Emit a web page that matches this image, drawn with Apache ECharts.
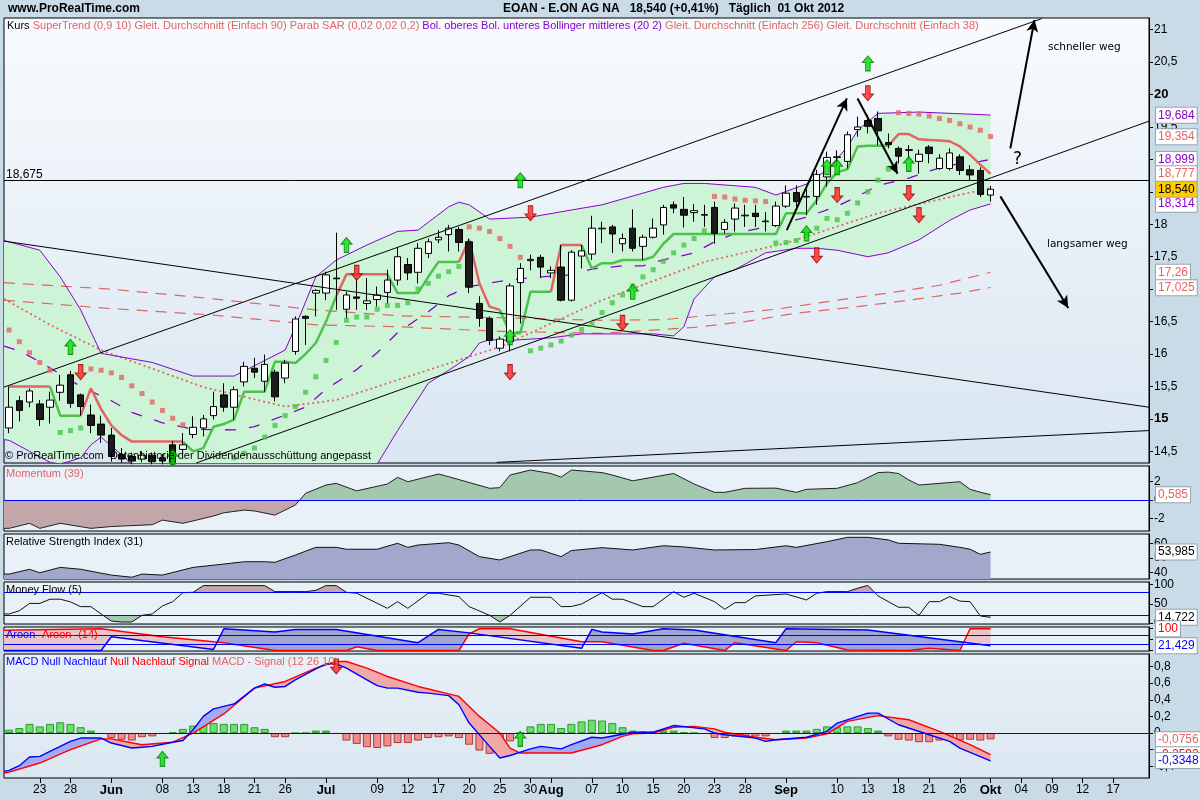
<!DOCTYPE html>
<html><head><meta charset="utf-8">
<script src="https://cdn.jsdelivr.net/npm/echarts@6/dist/echarts.min.js"></script>
<style>html,body{margin:0;padding:0;background:#c8dbe6}#c{width:1200px;height:800px}</style>
</head><body><div id="c"></div><script>
// ---------------- DATA ----------------
const dates = ['2012-05-18','2012-05-21','2012-05-22','2012-05-23','2012-05-24','2012-05-25','2012-05-28','2012-05-29','2012-05-30','2012-05-31',
'2012-06-01','2012-06-04','2012-06-05','2012-06-06','2012-06-07','2012-06-08','2012-06-11','2012-06-12','2012-06-13','2012-06-14','2012-06-15','2012-06-18','2012-06-19','2012-06-20','2012-06-21','2012-06-22','2012-06-25','2012-06-26','2012-06-27','2012-06-28','2012-06-29',
'2012-07-02','2012-07-03','2012-07-04','2012-07-05','2012-07-06','2012-07-09','2012-07-10','2012-07-11','2012-07-12','2012-07-13','2012-07-16','2012-07-17','2012-07-18','2012-07-19','2012-07-20','2012-07-23','2012-07-24','2012-07-25','2012-07-26','2012-07-27','2012-07-30','2012-07-31',
'2012-08-01','2012-08-02','2012-08-03','2012-08-06','2012-08-07','2012-08-08','2012-08-09','2012-08-10','2012-08-13','2012-08-14','2012-08-15','2012-08-16','2012-08-17','2012-08-20','2012-08-21','2012-08-22','2012-08-23','2012-08-24','2012-08-27','2012-08-28','2012-08-29','2012-08-30','2012-08-31',
'2012-09-03','2012-09-04','2012-09-05','2012-09-06','2012-09-07','2012-09-10','2012-09-11','2012-09-12','2012-09-13','2012-09-14','2012-09-17','2012-09-18','2012-09-19','2012-09-20','2012-09-21','2012-09-24','2012-09-25','2012-09-26','2012-09-27','2012-09-28',
'2012-10-01','2012-10-02','2012-10-03','2012-10-04','2012-10-05','2012-10-08','2012-10-09','2012-10-10','2012-10-11','2012-10-12','2012-10-15','2012-10-16','2012-10-17','2012-10-18','2012-10-19','2012-10-22'];
const labelDates = ['2012-05-23','2012-05-28','2012-06-01','2012-06-08','2012-06-13','2012-06-18','2012-06-21','2012-06-26','2012-07-02','2012-07-09','2012-07-12','2012-07-17','2012-07-20','2012-07-25','2012-07-30','2012-08-01','2012-08-07','2012-08-10','2012-08-15','2012-08-20','2012-08-23','2012-08-28','2012-09-03','2012-09-10','2012-09-13','2012-09-18','2012-09-21','2012-09-26','2012-10-01','2012-10-04','2012-10-09','2012-10-12','2012-10-17'];
const monthNames = ['Jan','Feb','Mär','Apr','Mai','Jun','Jul','Aug','Sep','Okt','Nov','Dez'];

const open = [14.86,15.28,15.26,15.23,15.18,15.41,15.68,15.37,15.06,14.92,14.75,14.45,14.42,14.38,14.44,14.40,14.60,14.53,14.76,14.86,15.05,15.37,15.18,15.57,15.78,15.58,15.72,15.63,16.04,16.58,16.94,16.94,17.17,16.69,16.88,16.78,16.84,16.95,17.14,17.38,17.26,17.55,17.76,17.84,17.92,17.73,16.78,16.55,16.09,16.19,17.10,17.44,17.49,17.25,17.34,16.83,17.51,17.54,17.93,17.96,17.70,17.94,17.66,17.80,17.99,18.30,18.23,18.18,18.14,18.26,17.92,18.08,18.13,18.17,18.04,17.98,18.28,18.49,18.42,18.43,18.73,19.03,18.97,19.46,19.60,19.63,19.26,19.17,19.15,18.97,19.19,18.86,18.86,19.04,18.84,18.83,18.45];
const close = [15.18,15.13,15.43,14.99,15.29,15.52,15.24,15.19,14.90,14.75,14.42,14.38,14.35,14.44,14.34,14.35,14.33,14.60,14.87,15.00,15.19,15.18,15.45,15.81,15.72,15.84,15.34,15.86,16.54,16.55,16.98,17.22,17.16,16.91,16.86,16.82,16.91,17.14,17.50,17.25,17.63,17.73,17.80,17.94,17.72,17.03,16.55,16.21,16.23,17.05,17.32,17.46,17.34,17.29,16.83,17.57,17.59,17.94,17.94,17.85,17.78,17.63,17.80,17.94,18.26,18.25,18.14,18.21,18.15,17.86,18.03,18.25,18.14,18.12,18.05,18.28,18.48,18.35,18.43,18.77,19.03,19.04,19.38,19.50,19.51,19.44,19.23,19.05,19.14,19.08,19.09,19.02,19.10,18.83,18.76,18.46,18.54];
const low = [14.78,14.96,15.18,14.89,14.93,15.28,15.17,15.05,14.78,14.63,14.34,14.32,14.30,14.33,14.30,14.30,14.30,14.45,14.70,14.73,14.99,15.11,14.99,15.50,15.63,15.42,15.27,15.55,15.99,16.14,16.58,16.83,16.68,16.55,16.68,16.68,16.73,16.78,17.06,17.14,17.09,17.48,17.71,17.58,17.58,16.94,16.42,16.14,16.04,16.04,16.47,17.29,17.17,17.17,16.81,16.81,17.32,17.45,17.71,17.56,17.58,17.58,17.45,17.78,17.84,18.17,17.95,18.04,17.96,17.70,17.86,17.89,17.96,17.96,17.89,17.96,18.25,18.27,18.14,18.30,18.58,18.89,18.86,19.35,19.40,19.22,19.17,18.94,18.99,18.78,18.94,18.84,18.83,18.76,18.68,18.42,18.35];
const high = [15.50,15.35,15.47,15.29,15.42,15.68,15.74,15.39,15.22,15.05,14.86,14.55,14.48,14.50,14.48,14.46,14.66,14.78,15.04,15.06,15.42,15.55,15.50,15.88,15.94,15.99,15.76,15.91,16.58,16.60,17.00,17.27,17.87,16.96,17.17,17.17,17.04,17.30,17.65,17.48,17.71,17.78,17.91,17.99,17.96,17.78,16.89,16.58,16.27,17.09,17.40,17.53,17.53,17.35,17.68,17.60,17.68,18.13,18.04,17.99,17.86,18.23,17.84,18.09,18.30,18.35,18.42,18.31,18.30,18.35,18.08,18.32,18.30,18.30,18.19,18.35,18.60,18.60,18.55,18.84,19.12,19.14,19.43,19.66,19.68,19.74,19.40,19.20,19.22,19.15,19.22,19.08,19.17,19.08,18.91,18.88,18.59];

const superTrendUp = [null,null,null,null,15.5,15.05,15.05,15.05,null,null,null,null,null,null,null,null,null,14.65,14.5,14.55,14.88,14.92,14.99,15.42,15.42,15.42,15.88,15.88,15.86,16.0,16.17,16.5,16.89,null,null,null,null,17.23,16.94,16.94,16.94,17.19,17.42,17.42,17.42,null,null,null,16.68,16.32,16.32,16.96,16.96,16.96,null,null,17.68,17.32,17.40,17.40,17.45,17.45,17.45,17.50,17.70,17.85,17.85,17.85,17.85,17.85,17.85,17.85,17.85,17.85,17.85,17.85,18.17,18.17,18.17,18.37,18.63,18.80,18.85,19.20,19.21,19.21,19.21,null,null,null,null,null,null,null,null,null,null];
const superTrendDown = [15.5,15.5,15.5,15.5,15.5,null,null,15.05,15.47,15.15,14.9,14.75,14.65,14.65,14.65,14.65,14.65,14.65,null,null,null,null,null,null,null,null,null,null,null,null,null,null,16.89,17.23,17.23,17.23,17.23,17.23,null,null,null,null,null,null,17.42,17.76,17.09,16.73,16.68,null,null,null,null,16.96,17.68,17.68,17.68,null,null,null,null,null,null,null,null,null,null,null,null,null,null,null,null,null,null,null,null,null,null,null,null,null,null,null,null,null,19.21,19.39,19.39,19.31,19.30,19.29,19.28,19.20,19.07,18.92,18.777];

const sarBelow = [[5,14.79],[6,14.82],[7,14.86],[22,14.40],[23,14.47],[24,14.55],[25,14.72],[26,14.90],[27,15.05],[28,15.19],[29,15.41],[30,15.65],[31,15.90],[32,16.18],[33,16.52],[34,16.57],[35,16.57],[36,16.69],[37,16.75],[38,16.75],[39,16.79],[40,17.00],[41,17.09],[42,17.20],[43,17.27],[44,17.35],[51,16.05],[52,16.09],[53,16.14],[54,16.20],[55,16.29],[56,16.38],[57,16.46],[58,16.64],[59,16.79],[60,16.91],[61,17.05],[62,17.19],[63,17.30],[64,17.43],[65,17.56],[66,17.68],[67,17.78],[68,17.90],[75,17.71],[76,17.72],[77,17.75],[78,17.85],[79,17.94],[80,18.09],[81,18.07],[82,18.17],[83,18.33],[84,18.50],[85,18.68],[86,18.85]];
const sarAbove = [[0,16.37],[1,16.19],[2,16.02],[3,15.87],[4,15.75],[8,15.77],[9,15.75],[10,15.71],[11,15.64],[12,15.51],[13,15.39],[14,15.26],[15,15.13],[16,15.01],[17,14.91],[45,17.96],[46,17.94],[47,17.89],[48,17.78],[49,17.66],[50,17.49],[69,18.43],[70,18.42],[71,18.39],[72,18.37],[73,18.36],[74,18.35],[87,19.72],[88,19.71],[89,19.70],[90,19.67],[91,19.63],[92,19.60],[93,19.55],[94,19.50],[95,19.45],[96,19.354]];

const bbUpper = [[-0.5,17.75],[0,17.73],[3,17.6],[5,17.19],[7,16.68],[9,16.01],[14,15.87],[18,15.66],[22,15.66],[27,16.06],[28,16.42],[30,17.19],[32,17.45],[35,17.68],[38,17.89],[40,17.91],[43,18.27],[44,18.34],[45,18.3],[47,18.08],[51,18.11],[55,18.22],[58,18.3],[64,18.57],[66,18.63],[68,18.63],[73,18.57],[75,18.45],[78,18.62],[80,18.84],[82,19.19],[83,19.45],[85,19.71],[89,19.73],[96,19.684]];
const bbLower = [[-0.5,14.68],[0,14.67],[2,14.5],[4,14.33],[5,14.3],[7,14.4],[8,14.6],[9,14.72],[10,14.58],[11,14.45],[12,14.3],[15,14.08],[18,14.02],[22,14.0],[25,13.95],[29,13.6],[31,13.62],[34,13.92],[36,14.3],[38,14.82],[41,15.55],[43,15.75],[45,15.96],[46,16.17],[47,16.22],[49,16.21],[53,16.25],[56,16.31],[63,16.31],[65,16.28],[66,16.42],[67,16.85],[69,17.19],[71,17.3],[74,17.56],[77,17.63],[79,17.63],[81,17.6],[84,17.5],[86,17.56],[89,17.76],[92,18.06],[94,18.22],[96,18.314]];
const bbMiddle = [[-0.5,16.12],[1,16.05],[3,15.88],[7,15.5],[10,15.28],[12,15.1],[15,14.94],[18,14.84],[22,14.83],[24,14.88],[29,15.18],[31,15.46],[34,15.76],[36,16.02],[38,16.33],[41,16.65],[43,16.9],[45,17.04],[48,17.12],[50,17.16],[52,17.19],[55,17.22],[57,17.31],[60,17.36],[62,17.36],[64,17.45],[67,17.56],[69,17.73],[71,17.86],[74,17.96],[76,18.03],[78,18.11],[81,18.28],[83,18.43],[85,18.6],[88,18.71],[90,18.82],[92,18.91],[95,18.97],[96,18.999]];
const sma90 = [[-0.5,17.10],[10,17.0],[20,16.85],[30,16.68],[38,16.59],[48,16.56],[58,16.52],[64,16.53],[75,16.69],[81,16.83],[86,16.94],[91,17.06],[96,17.26]];
const sma256 = [[-0.5,16.83],[10,16.7],[20,16.6],[30,16.45],[38,16.42],[48,16.35],[58,16.32],[67,16.41],[72,16.50],[77,16.63],[83,16.73],[88,16.83],[93,16.94],[96,17.025]];
const sma38 = [[-0.5,16.85],[4,16.45],[9,16.06],[19,15.49],[27,15.19],[32,15.29],[38,15.60],[48,16.11],[58,16.83],[68,17.42],[76,17.71],[85,18.17],[96,18.56]];

const signalUp = [[6,16.11],[16,14.41],[33,17.68],[49,16.26],[50,18.68],[61,16.96],[78,17.86],[80,18.88],[81,18.88],[84,20.48],[88,18.93]];
const signalDown = [[7,15.72],[34,17.25],[49,15.72],[51,18.17],[60,16.48],[79,17.52],[81,18.45],[84,20.02],[88,18.48],[89,18.14]];

const levelLine = 18.675;
const trendLines = [[[-0.5,15.49],[101,21.17]],[[18.3,14.32],[111.5,19.59]],[[-0.5,17.74],[111.5,15.18]],[[47.7,14.33],[111.5,14.82]]];
const arrowLines = [[[76.07,17.91],[81.95,19.94]],[[82.99,19.94],[86.9,18.78]],[[97.94,19.17],[100.3,21.15]],[[96.96,18.43],[103.6,16.71]]];

const momentum = [[-0.5,-3.1],[0,-3.1],[2,-2.55],[3,-3.1],[5,-2.55],[8,-3.1],[10,-2.9],[14,-2.7],[15,-2.2],[17,-2.55],[20,-1.75],[21,-1.4],[23,-1.1],[24,-1.2],[26,-1.65],[28,-0.55],[29,0.73],[31,1.64],[32,1.82],[34,1.0],[36,1.5],[37,1.75],[38,2.48],[39,2.0],[42,2.84],[43,2.55],[47,1.28],[48,1.35],[49,2.73],[51,3.28],[53,2.9],[54,2.5],[55,3.28],[58,3.0],[59,2.73],[61,2.1],[65,2.9],[67,1.75],[69,0.84],[70,0.84],[72,1.28],[75,1.3],[77,0.84],[78,1.17],[81,1.28],[83,1.9],[85,3.0],[86,3.05],[87,2.9],[88,2.2],[89,1.64],[93,2.0],[94,1.17],[95,0.85],[96,0.585]];
const rsi = [[-0.5,38.8],[0,38.8],[2,42.1],[3,39.7],[5,43.4],[7,42.1],[10,38.1],[12,36.6],[13,38.8],[15,38.1],[18,43.4],[21,45.7],[23,47.3],[25,47.3],[26,46.9],[28,51.9],[30,57.2],[32,57.2],[33,55.9],[36,55.9],[38,60],[39,57.2],[40,58.8],[43,60.4],[44,58.8],[46,50.8],[48,48.5],[49,50.8],[51,55.4],[52,55.4],[54,50.8],[55,55],[58,57],[61,55.4],[64,58.3],[66,57.5],[69,55.4],[73,55.7],[76,58.3],[77,57.2],[80,61.1],[82,64.1],[84,64.1],[86,62.3],[87,60],[91,59.3],[93,57.2],[94,55.9],[95,52.4],[96,53.985]];
const moneyFlow = [[-0.5,23.5],[0,23.5],[1,32],[2,51],[3,51],[4,62],[5,62],[6,55],[7,42.6],[8,42.6],[9,23.5],[10,5],[11,2.6],[12,2.6],[13,20],[14,23.5],[15,44.4],[16,55.6],[17,79],[18,80],[19,97.4],[25,97.4],[26,81.7],[29,81.7],[30,85],[31,97.4],[32,97.4],[33,80],[34,77.5],[36,51.4],[37,38.3],[38,55.6],[39,38.3],[41,77.5],[42,77.5],[44,68.7],[45,42.6],[47,20],[48,2.6],[49,20],[51,67],[53,67],[54,42.6],[55,43],[56,49.6],[58,79],[59,62],[60,62],[62,42.6],[63,42.6],[65,81.7],[66,67],[67,77.5],[69,55.6],[70,35.7],[71,53],[72,53],[73,70.5],[76,75.7],[78,60],[79,77.5],[80,81.7],[82,81.7],[83,90.6],[84,98],[85,70.5],[87,41],[88,41],[89,20],[90,55.6],[91,55.6],[92,68.7],[93,57],[94,55.6],[95,18.3],[96,14.722]];
const aroonUp = [[-0.5,0],[9,0],[10,63],[20,5],[21,100],[26,85],[28,97],[32,97],[40,36],[42,97],[45,81],[56,10],[57,97],[58,85],[61,76],[64,100],[67,94],[75,36],[76,100],[84,94],[93,40],[96,21.429]];
const aroonDown = [[-0.5,93],[9,100],[15,63],[20,40],[21,36],[26,0],[33,0],[34,17],[36,0],[44,0],[45,76],[46,100],[49,100],[56,40],[58,40],[63,0],[64,0],[66,33],[70,0],[71,36],[76,0],[77,40],[79,36],[82,2],[88,0],[90,10],[93,0],[94,100],[96,100]];
const macdLine = [[-0.5,-0.46],[0,-0.449],[1,-0.392],[2,-0.288],[3,-0.28],[5,-0.16],[6,-0.1],[7,-0.06],[9,-0.06],[10,-0.12],[12,-0.18],[13,-0.17],[14,-0.16],[16,-0.11],[17,-0.09],[18,0.04],[19,0.2],[20,0.29],[22,0.35],[24,0.54],[25,0.59],[26,0.55],[27,0.56],[28,0.64],[30,0.77],[31,0.83],[32,0.83],[33,0.78],[35,0.64],[36,0.57],[37,0.54],[38,0.54],[40,0.49],[41,0.48],[43,0.45],[44,0.34],[45,0.12],[47,-0.16],[48,-0.3],[49,-0.27],[51,-0.19],[52,-0.16],[54,-0.19],[55,-0.14],[57,-0.05],[58,-0.06],[61,0.01],[63,0.01],[65,0.09],[68,0.05],[69,0.0],[70,-0.02],[73,-0.06],[74,-0.1],[75,-0.08],[78,-0.05],[80,0.02],[81,0.12],[84,0.24],[85,0.24],[87,0.1],[90,-0.02],[92,-0.1],[93,-0.18],[96,-0.3348]];
const macdSignal = [[-0.5,-0.48],[0,-0.47],[3,-0.36],[6,-0.2],[9,-0.07],[10,-0.07],[13,-0.14],[16,-0.11],[18,0],[21,0.23],[24,0.54],[27,0.62],[30,0.78],[32,0.86],[33,0.86],[35,0.78],[37,0.68],[40,0.56],[44,0.44],[46,0.2],[48,0],[49,-0.18],[50,-0.24],[53,-0.24],[55,-0.24],[58,-0.14],[60,-0.04],[61,-0.01],[63,0.0],[65,0.07],[67,0.08],[69,0.05],[70,0.01],[73,-0.05],[75,-0.08],[78,-0.06],[80,-0.01],[82,0.14],[85,0.21],[88,0.16],[91,0.02],[94,-0.14],[96,-0.2592]];
const macdHist = [0.04,0.06,0.11,0.08,0.11,0.13,0.11,0.07,0.03,-0.01,-0.06,-0.08,-0.09,-0.05,-0.04,-0.01,0.01,0.05,0.09,0.11,0.12,0.11,0.11,0.11,0.07,0.05,-0.05,-0.05,0.0,0.0,0.03,0.03,-0.01,-0.09,-0.13,-0.17,-0.18,-0.16,-0.12,-0.12,-0.09,-0.06,-0.05,-0.04,-0.06,-0.14,-0.21,-0.25,-0.23,-0.10,0.0,0.08,0.11,0.11,0.06,0.11,0.14,0.16,0.15,0.12,0.07,0.03,0.02,0.02,0.03,0.03,0.01,0.0,-0.01,-0.06,-0.06,-0.04,-0.04,-0.04,-0.04,-0.01,0.03,0.03,0.03,0.05,0.08,0.07,0.08,0.08,0.06,0.03,-0.04,-0.08,-0.09,-0.11,-0.11,-0.09,-0.09,-0.09,-0.08,-0.09,-0.0756];
const macdUpSignals = [[15,-0.31],[50,-0.07]];
const macdDownSignals = [[32,0.80]];

// ---------------- STYLE / HELPERS ----------------
const F = '"Liberation Sans", Arial, Helvetica, sans-serif';
const SAL = '#e26464', PUR = '#8a00cc', BLUE = '#0000ff', RED = '#ff0000';
const UP_PATH = 'path://M6,0 L12,7 L8.5,7 L8.5,16 L3.5,16 L3.5,7 L0,7 Z';
const DN_PATH = 'path://M3.5,0 L8.5,0 L8.5,9 L12,9 L6,16 L0,9 L3.5,9 Z';
const fmt = v => String(v).replace('.', ',');
const N = dates.length;

function interp(arr, x) {
  if (x <= arr[0][0]) return arr[0][1];
  for (let k = 1; k < arr.length; k++) {
    if (x <= arr[k][0]) { const a = arr[k-1], b = arr[k]; return a[1] + (b[1]-a[1]) * (x-a[0]) / (b[0]-a[0]); }
  }
  return arr[arr.length-1][1];
}
function fillBetween(g, A, B, colUp, colDn, z) {
  const isNum = typeof B === 'number';
  return {
    type: 'custom', xAxisIndex: 2*g+1, yAxisIndex: g, silent: true, animation: false, z: z,
    data: [[A[0][0], isNum ? B : B[0][1]]],
    renderItem: function (params, api) {
      const cs = params.coordSys, y0 = cs.y, y1 = cs.y + cs.height;
      const cl = p => [p[0], Math.max(y0, Math.min(y1, p[1]))];
      const bAt = x => isNum ? B : interp(B, x);
      let xs = A.map(p => p[0]);
      if (!isNum) xs = xs.concat(B.map(p => p[0]));
      const lo = Math.max(A[0][0], isNum ? -1e9 : B[0][0]);
      const hi = Math.min(A[A.length-1][0], isNum ? 1e9 : B[B.length-1][0]);
      xs = Array.from(new Set(xs)).filter(x => x >= lo && x <= hi).sort((a, b) => a - b);
      const pts = [];
      xs.forEach((x, k) => {
        const a = interp(A, x), b = bAt(x);
        if (k > 0) {
          const p = pts[pts.length-1], d0 = p.a - p.b, d1 = a - b;
          if (d0 * d1 < 0) { const t = d0 / (d0 - d1); const xm = p.x + t*(x-p.x); const am = p.a + t*(a-p.a); pts.push({x: xm, a: am, b: am, cross: true}); }
        }
        pts.push({x, a, b});
      });
      const children = [];
      let run = [], sign = 0;
      const flush = () => {
        if (run.length > 1) {
          const col = sign > 0 ? colUp : colDn;
          if (col) {
            const top = run.map(p => cl(api.coord([p.x, p.a])));
            const bot = run.slice().reverse().map(p => cl(api.coord([p.x, p.b])));
            children.push({type: 'polygon', shape: {points: top.concat(bot)}, style: {fill: col}});
          }
        }
      };
      pts.forEach(p => {
        if (p.cross) { run.push(p); flush(); run = [p]; sign = 0; return; }
        const s = Math.sign(p.a - p.b);
        if (s === 0 || sign === 0 || s === sign) { if (sign === 0) sign = s; run.push(p); }
        else { flush(); run = [run[run.length-1], p]; sign = s; }
      });
      flush();
      return {type: 'group', children};
    }
  };
}
function box(val, color, bg, text) {
  return {yAxis: val, lineStyle: {width: 1, color: 'rgba(0,0,0,0)', type: 'solid'},
    label: {show: true, position: 'end', distance: 7, formatter: text || fmt(val), color: color, backgroundColor: bg || '#ffffff',
      borderColor: '#98a4b0', borderWidth: 1, padding: [2, 2, 1, 2], fontSize: 12, fontFamily: F}};
}
function level(val) { return {yAxis: val, lineStyle: {color: BLUE, width: 1, type: 'solid'}, label: {show: false}}; }
function marks(items) { return {symbol: 'none', silent: true, animation: false, data: items}; }
function lineV(g, data, color, width, type, z, extra) {
  return Object.assign({type: 'line', xAxisIndex: 2*g+1, yAxisIndex: g, data: data, symbol: 'none', silent: true, animation: false,
    lineStyle: {color: color, width: width, type: type}, z: z}, extra || {});
}
const last = a => a[a.length-1][1];
const lastClose = close[close.length-1];

// ---------------- LAYOUT ----------------
const panels = [
  {top: 18, height: 445, bg: {type:'linear',x:0,y:0,x2:0,y2:1,colorStops:[{offset:0,color:'#f8fbfe'},{offset:1,color:'#d9e6f1'}]}},
  {top: 466, height: 65, bg: '#e9f1f8'},
  {top: 534, height: 45, bg: '#e9f1f8'},
  {top: 582, height: 42, bg: '#e9f1f8'},
  {top: 627, height: 24, bg: '#e9f1f8'},
  {top: 654, height: 124, bg: {type:'linear',x:0,y:0,x2:0,y2:1,colorStops:[{offset:0,color:'#e8f0f8'},{offset:1,color:'#dbe7f1'}]}}
];
const grid = panels.map(p => ({left: 4, right: 51, top: p.top, height: p.height, show: true, borderColor: '#000', borderWidth: 1,
  backgroundColor: p.bg, containLabel: false, outerBoundsMode: 'none'}));
const labelSet = new Set(labelDates);
const xAxis = [];
panels.forEach((p, g) => {
  const bottom = g === panels.length - 1;
  xAxis.push({type: 'category', gridIndex: g, data: dates, boundaryGap: true, position: 'bottom',
    axisLine: {show: false, onZero: false}, splitLine: {show: false},
    axisTick: {show: bottom, alignWithLabel: true, length: 5, interval: (i, v) => labelSet.has(v), lineStyle: {color: '#000'}},
    axisLabel: {show: bottom, interval: (i, v) => labelSet.has(v), color: '#000', fontSize: 12, fontFamily: F, margin: 6,
      formatter: (v, i) => { const d = v.split('-'); const prev = dates[i-1];
        if (!prev || prev.split('-')[1] !== d[1]) return '{m|' + monthNames[+d[1]-1] + '}'; return d[2]; },
      rich: {m: {fontWeight: 'bold', fontSize: 13, fontFamily: F, color: '#000'}}}});
  xAxis.push({type: 'value', gridIndex: g, min: -0.5, max: N - 0.5, show: false, axisLine: {onZero: false}});
});
function yAx(g, min, max, split, formatter, rich) {
  return {type: 'value', gridIndex: g, position: 'right', min: min, max: max, splitNumber: split,
    axisLine: {show: true, onZero: false, lineStyle: {color: '#000'}}, axisTick: {show: true, length: 4, lineStyle: {color: '#000'}},
    splitLine: {show: false},
    axisLabel: {show: true, color: '#000', fontSize: 12, fontFamily: F, margin: 5, showMinLabel: false, showMaxLabel: false,
      formatter: formatter || (v => fmt(+v.toFixed(4))), rich: rich}};
}
const yAxis = [
  yAx(0, 14.32, 21.18, 14, v => { const s = fmt(+v.toFixed(2)); return Math.abs(v % 5) < 1e-6 ? '{b|' + s + '}' : s; },
      {b: {fontWeight: 'bold', fontSize: 13, fontFamily: F, color: '#000'}}),
  yAx(1, -3.39, 3.72, 3),
  yAx(2, 35.4, 66.4, 3),
  yAx(3, -2.6, 106.8, 2),
  yAx(4, -2.3, 108, 2, v => (Math.abs(v - 100) < 1e-6 ? '100' : '')),
  yAx(5, -0.54, 0.95, 7)
];

// ---------------- SERIES ----------------
const series = [];
// main panel
series.push(fillBetween(0, bbUpper, bbLower, '#cdf4d7', null, 1));
series.push(lineV(0, sma90, SAL, 1.2, [11, 8], 2, {markLine: marks([box(last(sma90), SAL)])}));
series.push(lineV(0, sma256, SAL, 1.2, [11, 8], 2, {markLine: marks([box(last(sma256), SAL)])}));
series.push(lineV(0, sma38, SAL, 1.8, [2, 3], 2));
series.push(lineV(0, bbMiddle, PUR, 1.3, [11, 13], 2, {markLine: marks([box(last(bbMiddle), PUR)])}));
series.push(lineV(0, bbLower, PUR, 1, 'solid', 2, {markLine: marks([box(last(bbLower), PUR)])}));
series.push(lineV(0, bbUpper, PUR, 1, 'solid', 2, {markLine: marks([box(last(bbUpper), PUR)])}));
series.push({type: 'line', xAxisIndex: 0, yAxisIndex: 0, data: superTrendUp, symbol: 'none', silent: true, animation: false, z: 3,
  lineStyle: {color: '#4cc24c', width: 2.5}});
series.push({type: 'line', xAxisIndex: 0, yAxisIndex: 0, data: superTrendDown, symbol: 'none', silent: true, animation: false, z: 3,
  lineStyle: {color: SAL, width: 2.5}, markLine: marks([box(superTrendDown[superTrendDown.length-1], SAL)])});
series.push({type: 'candlestick', xAxisIndex: 0, yAxisIndex: 0, silent: true, animation: false, z: 4, barWidth: 7,
  data: open.map((o, k) => [o, close[k], low[k], high[k]]),
  itemStyle: {color: '#ffffff', color0: '#1b1b1b', borderColor: '#000', borderColor0: '#000', borderWidth: 1},
  markLine: marks([box(lastClose, '#000', '#ffcc00', fmt(lastClose.toFixed(3)))])});
series.push({type: 'scatter', xAxisIndex: 1, yAxisIndex: 0, data: sarBelow, symbol: 'rect', symbolSize: 5, silent: true, animation: false, z: 5,
  itemStyle: {color: '#46c646'}});
series.push({type: 'scatter', xAxisIndex: 1, yAxisIndex: 0, data: sarAbove, symbol: 'rect', symbolSize: 5, silent: true, animation: false, z: 5,
  itemStyle: {color: SAL}, markLine: marks([box(last(sarAbove), SAL)])});
// drawings
const drawItems = trendLines.map(t => [{coord: t[0], symbol: 'none', lineStyle: {color: '#000', width: 1, type: 'solid'}}, {coord: t[1], symbol: 'none'}])
  .concat(arrowLines.map(t => [{coord: t[0], symbol: 'none', lineStyle: {color: '#000', width: 2, type: 'solid'}}, {coord: t[1], symbol: 'arrow', symbolSize: [9, 12]}]));
series.push(lineV(0, [[-0.5, levelLine], [N - 0.5, levelLine]], '#000', 1, 'solid', 5,
  {markLine: {silent: true, animation: false, symbol: 'none', label: {show: false}, data: drawItems}}));
series.push({type: 'scatter', xAxisIndex: 1, yAxisIndex: 0, data: signalUp, symbol: UP_PATH, symbolSize: [11, 15], silent: true, animation: false, z: 6,
  itemStyle: {color: '#00e000', borderColor: '#007a00', borderWidth: 1}});
series.push({type: 'scatter', xAxisIndex: 1, yAxisIndex: 0, data: signalDown, symbol: DN_PATH, symbolSize: [11, 15], silent: true, animation: false, z: 6,
  itemStyle: {color: '#ff2222', borderColor: '#a00000', borderWidth: 1}});
// momentum
series.push(fillBetween(1, momentum, 0, '#a4c8ad', '#c2a6aa', 1));
series.push(lineV(1, momentum, '#222', 1, 'solid', 3, {markLine: marks([level(0), box(last(momentum), SAL)])}));
// RSI
series.push(lineV(2, rsi, '#111', 1, 'solid', 3, {areaStyle: {color: '#a2a8cc', opacity: 1, origin: 'start'},
  markLine: marks([box(last(rsi), '#000')])}));
// money flow
series.push(fillBetween(3, moneyFlow, 80, '#c2a6aa', null, 1));
series.push(fillBetween(3, moneyFlow, 20, null, '#a4c8ad', 1));
series.push(lineV(3, moneyFlow, '#111', 1, 'solid', 3, {markLine: marks([level(80), level(20), box(last(moneyFlow), '#000')])}));
// aroon
series.push(fillBetween(4, aroonUp, aroonDown, '#a0a5d2', '#e8c5ca', 1));
series.push(lineV(4, aroonDown, RED, 1.5, 'solid', 3, {markLine: marks([level(70), level(30), box(last(aroonDown), RED)])}));
series.push(lineV(4, aroonUp, BLUE, 1.5, 'solid', 4, {markLine: marks([box(last(aroonUp), BLUE)])}));
// MACD
series.push({type: 'bar', xAxisIndex: 10, yAxisIndex: 5, barWidth: 8, silent: true, animation: false, z: 2,
  data: macdHist.map(v => ({value: v, itemStyle: v >= 0 ? {color: '#6ede6e', borderColor: '#2c9a2c', borderWidth: 1} : {color: '#f08c8c', borderColor: '#b03838', borderWidth: 1}})),
  markLine: marks([level(0), box(macdHist[macdHist.length-1], SAL)])});
series.push(fillBetween(5, macdLine, macdSignal, '#a3aaf2', '#f0a8a8', 3));
series.push(lineV(5, macdSignal, RED, 1.4, 'solid', 4, {markLine: marks([box(last(macdSignal), RED)])}));
series.push(lineV(5, macdLine, BLUE, 1.4, 'solid', 5, {markLine: marks([box(last(macdLine), BLUE)])}));
series.push({type: 'scatter', xAxisIndex: 11, yAxisIndex: 5, data: macdUpSignals, symbol: UP_PATH, symbolSize: [11, 15], silent: true, animation: false, z: 6,
  itemStyle: {color: '#00e000', borderColor: '#007a00', borderWidth: 1}});
series.push({type: 'scatter', xAxisIndex: 11, yAxisIndex: 5, data: macdDownSignals, symbol: DN_PATH, symbolSize: [11, 15], silent: true, animation: false, z: 6,
  itemStyle: {color: '#ff2222', borderColor: '#a00000', borderWidth: 1}});

// ---------------- TEXT ----------------
function T(x, y, text, font, fill, extra) {
  return Object.assign({type: 'text', x: x, y: y, z: 100, silent: true,
    style: {text: text, font: font, fill: fill || '#000', align: 'left', verticalAlign: 'middle'}}, extra || {});
}
const f11 = '11px ' + F, f12 = '12px ' + F;
const graphic = [
  T(8, 9, 'www.ProRealTime.com', 'bold 12px ' + F),
  T(503, 9, 'EOAN - E.ON AG NA   18,540 (+0,41%)   Täglich  01 Okt 2012', 'bold 12px ' + F),
  {type: 'text', x: 7, y: 26, z: 100, silent: true, style: {
    text: '{k|Kurs} {r|SuperTrend (0,9 10) Gleit. Durchschnitt (Einfach 90) Parab SAR (0,02 0,02 0,2)} {p|Bol. oberes Bol. unteres Bollinger mittleres (20 2)} {r|Gleit. Durchschnitt (Einfach 256) Gleit. Durchschnitt (Einfach 38)}',
    font: f11, verticalAlign: 'middle',
    rich: {k: {fill: '#000', color: '#000', font: f11}, r: {fill: SAL, color: SAL, font: f11}, p: {fill: PUR, color: PUR, font: f11}}}},
  T(6, 175, '18,675', f12),
  T(5, 456, '© ProRealTime.com  Datenhistorie der Dividendenausschüttung angepasst', f11),
  T(1048, 47, 'schneller weg', '10.5px "DejaVu Sans", sans-serif'),
  T(1047, 244, 'langsamer weg', '10.5px "DejaVu Sans", sans-serif'),
  T(1013, 160, '?', '17px "DejaVu Sans", sans-serif'),
  T(6, 474, 'Momentum (39)', f11, SAL),
  T(6, 542, 'Relative Strength Index (31)', f11),
  T(6, 590, 'Money Flow (5)', f11),
  {type: 'text', x: 6, y: 635, z: 100, silent: true, style: {text: '{b|Aroon-} {r|Aroon- (14)}', font: f11, verticalAlign: 'middle',
    rich: {b: {fill: BLUE, color: BLUE, font: f11}, r: {fill: RED, color: RED, font: f11}}}},
  {type: 'text', x: 6, y: 662, z: 100, silent: true, style: {text: '{b|MACD Null Nachlauf} {r|Null Nachlauf Signal} {s|MACD - Signal (12 26 10)}', font: f11, verticalAlign: 'middle',
    rich: {b: {fill: BLUE, color: BLUE, font: f11}, r: {fill: RED, color: RED, font: f11}, s: {fill: SAL, color: SAL, font: f11}}}}
];

const chart = echarts.init(document.getElementById('c'), null, {renderer: 'canvas', width: 1200, height: 800});
chart.setOption({
  animation: false, backgroundColor: '#c8dbe6',
  textStyle: {fontFamily: F},
  grid: grid, xAxis: xAxis, yAxis: yAxis, series: series, graphic: graphic
});
</script></body></html>
